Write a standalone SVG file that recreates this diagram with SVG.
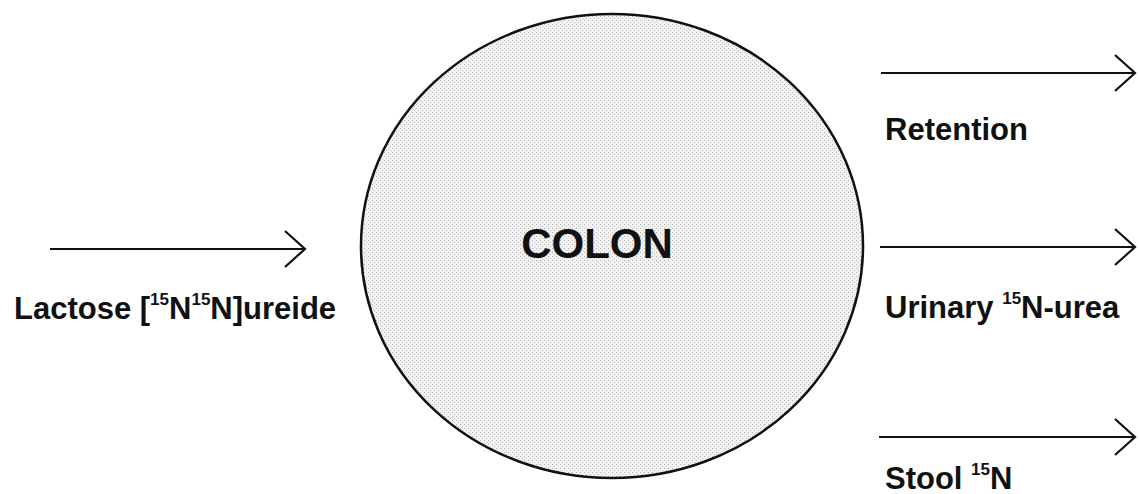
<svg xmlns="http://www.w3.org/2000/svg" width="1139" height="494" viewBox="0 0 1139 494">
<style>
.lbl{font-family:"Liberation Sans",Arial,sans-serif;font-weight:bold;font-size:31px;fill:#111}
.sup{font-size:17px}
.conn{stroke:#111;stroke-width:2;fill:none}
</style>
<defs>
<pattern id="dots" patternUnits="userSpaceOnUse" width="4" height="4">
<rect width="4" height="4" fill="#f2f2f2"/>
<rect x="0" y="0" width="1" height="1" fill="#b0b0b0"/>
<rect x="2" y="2" width="1" height="1" fill="#c4c4c4"/>
</pattern>
<marker id="chev" markerUnits="userSpaceOnUse" markerWidth="30" markerHeight="44" viewBox="-24 -22 30 44" refX="0" refY="0" orient="auto">
<path d="M-20,-18 L0,0 L-20,18" fill="none" stroke="#111" stroke-width="2.2"/>
</marker>
</defs>
<rect width="1139" height="494" fill="#fff"/>
<g id="colon">
<ellipse cx="612" cy="246" rx="251" ry="232" fill="url(#dots)" stroke="#111" stroke-width="2.5"/>
<text class="lbl" x="597" y="258" text-anchor="middle" style="font-size:42px">COLON</text>
</g>
<g id="connectors">
<line class="conn" x1="50" y1="249" x2="305" y2="249" marker-end="url(#chev)"/>
<line class="conn" x1="881" y1="73" x2="1135" y2="73" marker-end="url(#chev)"/>
<line class="conn" x1="880" y1="247" x2="1135" y2="247" marker-end="url(#chev)"/>
<line class="conn" x1="879" y1="437" x2="1135" y2="437" marker-end="url(#chev)"/>
</g>
<g id="input">
<text class="lbl" x="14" y="319">Lactose [<tspan class="sup" dy="-14">15</tspan><tspan dy="14">N</tspan><tspan class="sup" dy="-14">15</tspan><tspan dy="14">N]ureide</tspan></text>
</g>
<g id="retention">
<text class="lbl" x="885" y="140">Retention</text>
</g>
<g id="urinary">
<text class="lbl" x="885" y="318">Urinary <tspan class="sup" dy="-14">15</tspan><tspan dy="14">N-urea</tspan></text>
</g>
<g id="stool">
<text class="lbl" x="885" y="489">Stool <tspan class="sup" dy="-14">15</tspan><tspan dy="14">N</tspan></text>
</g>
</svg>
